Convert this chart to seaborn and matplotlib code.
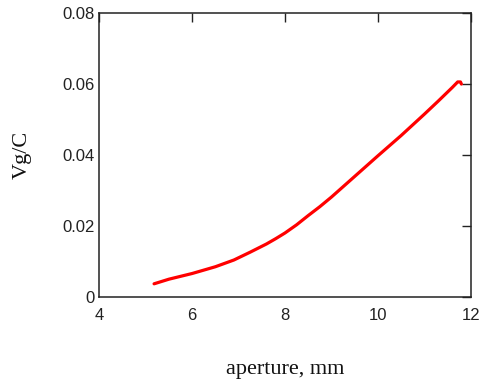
import matplotlib
matplotlib.use("Agg")
import matplotlib.pyplot as plt
import seaborn as sns
import pandas as pd

# aperture (mm) and the measured ratio Vg/C
aperture = [5.18, 5.5, 6.0, 6.5, 6.9, 7.25, 7.6, 7.8, 8.0, 8.25, 8.5,
            8.75, 9.0, 9.25, 9.5, 9.75, 10.0, 10.5, 11.0, 11.3, 11.6,
            11.72, 11.78, 11.8]
vg_over_c = [0.0038, 0.0051, 0.0067, 0.0086, 0.0105, 0.0127, 0.0150,
             0.0165, 0.0181, 0.0204, 0.0230, 0.0255, 0.0282, 0.0311,
             0.0340, 0.0369, 0.0398, 0.0455, 0.0515, 0.0552, 0.0590,
             0.0606, 0.0606, 0.0600]

x_ticks = [4, 6, 8, 10, 12]
x_tick_labels = ["4", "6", "8", "10", "12"]
y_ticks = [0, 0.02, 0.04, 0.06, 0.08]
y_tick_labels = ["0", "0.02", "0.04", "0.06", "0.08"]

sns.set_style("white")
plt.rcParams["font.family"] = ["Liberation Sans Narrow", "Liberation Sans", "DejaVu Sans"]

df = pd.DataFrame({"aperture": aperture, "vgc": vg_over_c})

fig = plt.figure(figsize=(4.86, 3.82), dpi=100)
ax = fig.add_axes([0.2043, 0.2217, 0.7642, 0.7443])

sns.lineplot(data=df, x="aperture", y="vgc", ax=ax, color="#ff0000",
             linewidth=2.3, estimator=None, sort=False)

ax.set_xlim(4, 12)
ax.set_ylim(0, 0.08)
ax.set_xticks(x_ticks)
ax.set_xticklabels(x_tick_labels)
ax.set_yticks(y_ticks)
ax.set_yticklabels(y_tick_labels)

for s in ax.spines.values():
    s.set_visible(True)
    s.set_color("#222222")
    s.set_linewidth(1.1)

ax.tick_params(axis="both", which="both", direction="in", length=6.5,
               width=1.0, color="#222222", top=True, right=True,
               labelsize=12, labelcolor="#222222")
ax.tick_params(axis="x", pad=7.5)
ax.tick_params(axis="y", pad=3)

ax.set_xlabel("aperture, mm", fontsize=16, family=["Liberation Serif", "DejaVu Serif"],
              color="#111111")
ax.set_ylabel("Vg/C", fontsize=16, family=["Liberation Serif", "DejaVu Serif"],
              color="#111111")
ax.xaxis.set_label_coords(0.5, -0.222)
ax.yaxis.set_label_coords(-0.181, 0.5)

fig.savefig("out.png", dpi=100)
